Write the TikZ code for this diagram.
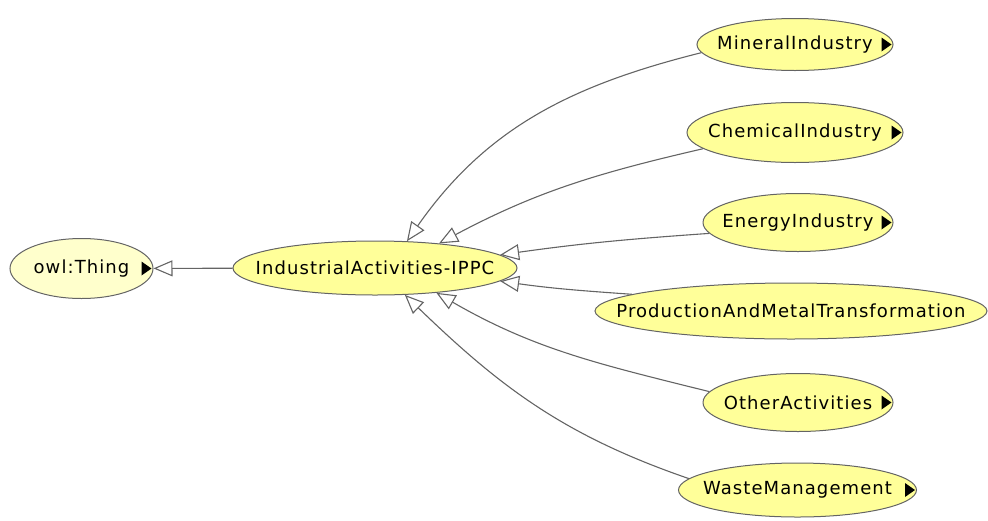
\documentclass[tikz,border=0pt]{standalone}
\usepackage{fontspec}
\setmainfont{DejaVu Sans}[LetterSpace=6]
\usetikzlibrary{shapes.geometric,arrows.meta}
\definecolor{clsfill}{RGB}{255,255,153}
\definecolor{thingfill}{RGB}{255,255,204}
\definecolor{edgegray}{RGB}{100,100,100}
\newcommand{\clabel}[1]{\makebox[0pt]{#1}}
\begin{document}
\begin{tikzpicture}[x=1pt,y=1pt,
        cls/.style={ellipse,draw=edgegray,line width=1pt,fill=clsfill,inner sep=0pt,font=\fontsize{18}{20}\selectfont},
        isa/.style={draw=edgegray,line width=1.1pt,-{Triangle[open,length=19pt,width=16pt]}}]
        \useasboundingbox (0,0) rectangle (988,-520);
        % classes
        \node[cls,fill=thingfill,minimum width=143pt,minimum height=60pt] (thing) at (81.5,-268.5) {\clabel{owl:Thing}};
        \node[cls,minimum width=284pt,minimum height=54pt] (ippc) at (375,-268) {\clabel{IndustrialActivities-IPPC}};
        \node[cls,minimum width=196pt,minimum height=52pt] (mineral) at (795,-44.5) {\clabel{MineralIndustry}};
        \node[cls,minimum width=216pt,minimum height=60pt] (chemical) at (795,-132.5) {\clabel{ChemicalIndustry}};
        \node[cls,minimum width=190pt,minimum height=58pt] (energy) at (798,-222.5) {\clabel{EnergyIndustry}};
        \node[cls,minimum width=392pt,minimum height=56pt] (production) at (791,-311) {\clabel{ProductionAndMetalTransformation}};
        \node[cls,minimum width=190pt,minimum height=58pt] (other) at (798,-402.5) {\clabel{OtherActivities}};
        \node[cls,minimum width=238pt,minimum height=54pt] (waste) at (797.5,-490) {\clabel{WasteManagement}};
        % expand markers
        \foreach \n in {thing,mineral,chemical,energy,other,waste}
            \fill (\n.east) ++(-2,0) -- ++(-10,7) -- ++(0,-14) -- cycle;
        % subclass links
        \draw[isa] (ippc) -- (thing);
        \draw[isa] (mineral.185) to[out=194,in=55] (ippc.40);
        \draw[isa] (chemical.190) to[out=193,in=28] (ippc.21);
        \draw[isa] (energy.187) to[out=184,in=8] (ippc.6);
        \draw[isa] (production.174) to[out=176,in=-8] (ippc.-6);
        \draw[isa] (other.173) to[out=166,in=-30] (ippc.-22);
        \draw[isa] (waste.174) to[out=161,in=-44] (ippc.-42);
    \end{tikzpicture}
\end{document}
